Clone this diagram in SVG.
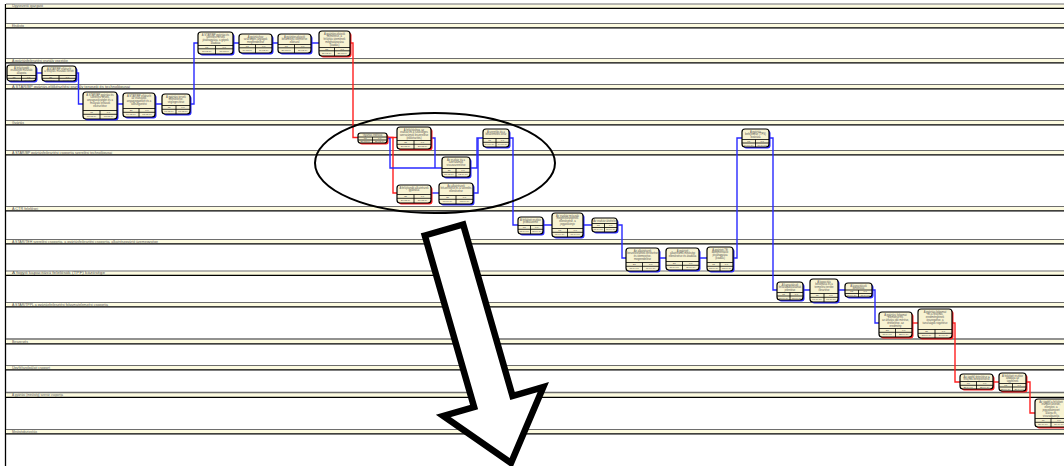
<svg xmlns="http://www.w3.org/2000/svg" width="1064" height="466" viewBox="0 0 1064 466">
  <style>
    .lane-top { stroke: #6e6e6e; stroke-width: 1; }
    .lane-band { fill: #fdfbe0; }
    .lane-bot { stroke: #000; stroke-width: 1.3; }
    .lane-lbl { font-family: "Liberation Sans", Arial, sans-serif; font-size: 3.2px; fill: #555; }
    .box { fill: #f8f3d2; stroke: #000; stroke-width: 1.2; }
    .sh-b { fill: #2a2aff; }
    .sh-r { fill: #ff2020; }
    .grid { stroke: #000; stroke-width: 0.8; fill: none; }
    .t { font-family: "Liberation Sans", Arial, sans-serif; font-size: 2.7px; fill: #555; text-anchor: middle; }
    .c { font-family: "Liberation Sans", Arial, sans-serif; font-size: 2.4px; fill: #444; text-anchor: middle; }
    .wb { fill: none; stroke: #2a2aff; stroke-width: 1.4; }
    .wr { fill: none; stroke: #ff2020; stroke-width: 1.4; }
  </style>

  <rect width="1064" height="466" fill="#fff"/>

  <!-- swimlanes -->
  <g id="lanes">
    <line x1="5.5" y1="4" x2="5.5" y2="466" stroke="#000" stroke-width="1.3"/>
    <g id="lane-1"><rect class="lane-band" x="6" y="4.5" width="1058" height="3.5"/><line class="lane-top" x1="6" y1="4" x2="1064" y2="4"/><line class="lane-bot" x1="6" y1="8.3" x2="1064" y2="8.3"/><text class="lane-lbl" x="12" y="7.2" textLength="31" lengthAdjust="spacingAndGlyphs">Ügyvezető igazgató</text></g>
    <g id="lane-2"><rect class="lane-band" x="6" y="24" width="1058" height="3.5"/><line class="lane-top" x1="6" y1="23.5" x2="1064" y2="23.5"/><line class="lane-bot" x1="6" y1="27.8" x2="1064" y2="27.8"/><text class="lane-lbl" x="12" y="26.7" textLength="12" lengthAdjust="spacingAndGlyphs">Elnökség</text></g>
    <g id="lane-3"><rect class="lane-band" x="6" y="59" width="1058" height="3.5"/><line class="lane-top" x1="6" y1="58.5" x2="1064" y2="58.5"/><line class="lane-bot" x1="6" y1="62.8" x2="1064" y2="62.8"/><text class="lane-lbl" x="12" y="61.7" textLength="56" lengthAdjust="spacingAndGlyphs">A gyártásfejlesztési osztály vezetője</text></g>
    <g id="lane-4"><rect class="lane-band" x="6" y="85" width="1058" height="3.5"/><line class="lane-top" x1="6" y1="84.5" x2="1064" y2="84.5"/><line class="lane-bot" x1="6" y1="88.8" x2="1064" y2="88.8"/><text class="lane-lbl" x="12" y="87.7" textLength="118" lengthAdjust="spacingAndGlyphs">A STAR/BP gyártás-előkészítési osztály tervezői és technológusai</text></g>
    <g id="lane-5"><rect class="lane-band" x="6" y="121" width="1058" height="3.5"/><line class="lane-top" x1="6" y1="120.5" x2="1064" y2="120.5"/><line class="lane-bot" x1="6" y1="124.8" x2="1064" y2="124.8"/><text class="lane-lbl" x="12" y="123.7" textLength="12" lengthAdjust="spacingAndGlyphs">Gyártás</text></g>
    <g id="lane-6"><rect class="lane-band" x="6" y="151" width="1058" height="3.5"/><line class="lane-top" x1="6" y1="150.5" x2="1064" y2="150.5"/><line class="lane-bot" x1="6" y1="154.8" x2="1064" y2="154.8"/><text class="lane-lbl" x="12" y="153.7" textLength="100" lengthAdjust="spacingAndGlyphs">A STAR/BP gyártásfejlesztési csoportja szerelési technológusai</text></g>
    <g id="lane-7"><rect class="lane-band" x="6" y="207" width="1058" height="3.5"/><line class="lane-top" x1="6" y1="206.5" x2="1064" y2="206.5"/><line class="lane-bot" x1="6" y1="210.8" x2="1064" y2="210.8"/><text class="lane-lbl" x="12" y="209.7" textLength="26" lengthAdjust="spacingAndGlyphs">A CTR felelősei</text></g>
    <g id="lane-8"><rect class="lane-band" x="6" y="240" width="1058" height="3.5"/><line class="lane-top" x1="6" y1="239.5" x2="1064" y2="239.5"/><line class="lane-bot" x1="6" y1="243.8" x2="1064" y2="243.8"/><text class="lane-lbl" x="12" y="242.7" textLength="146" lengthAdjust="spacingAndGlyphs">A STAR/TEH szerelési csoportja, a gyártásfejlesztési csoportja, alkatrészgyártó üzemegysége</text></g>
    <g id="lane-9"><rect class="lane-band" x="6" y="271.5" width="1058" height="3.5"/><line class="lane-top" x1="6" y1="271" x2="1064" y2="271"/><line class="lane-bot" x1="6" y1="275.3" x2="1064" y2="275.3"/><text class="lane-lbl" x="12" y="274.2" textLength="93" lengthAdjust="spacingAndGlyphs">A fogyó kapacitású felelősök (TPF) közösége</text></g>
    <g id="lane-10"><rect class="lane-band" x="6" y="303" width="1058" height="3.5"/><line class="lane-top" x1="6" y1="302.5" x2="1064" y2="302.5"/><line class="lane-bot" x1="6" y1="306.8" x2="1064" y2="306.8"/><text class="lane-lbl" x="12" y="305.7" textLength="96" lengthAdjust="spacingAndGlyphs">A STAR/TPPL a gyártásfejlesztési folyamatelemzési csoportja</text></g>
    <g id="lane-11"><rect class="lane-band" x="6" y="339.5" width="1058" height="4"/><line class="lane-top" x1="6" y1="339" x2="1064" y2="339" style="stroke-width:1.4"/><line class="lane-bot" x1="6" y1="343.8" x2="1064" y2="343.8"/><text class="lane-lbl" x="12" y="342.6" textLength="16" lengthAdjust="spacingAndGlyphs">Beszerzés</text></g>
    <g id="lane-12"><rect class="lane-band" x="6" y="366" width="1058" height="3.5"/><line class="lane-top" x1="6" y1="365.5" x2="1064" y2="365.5"/><line class="lane-bot" x1="6" y1="369.8" x2="1064" y2="369.8"/><text class="lane-lbl" x="12" y="368.7" textLength="38" lengthAdjust="spacingAndGlyphs">Ügyfélszolgálati csoport</text></g>
    <g id="lane-13"><rect class="lane-band" x="6" y="393" width="1058" height="4"/><line class="lane-top" x1="6" y1="392.5" x2="1064" y2="392.5" style="stroke-width:1.4"/><line class="lane-bot" x1="6" y1="397.3" x2="1064" y2="397.3"/><text class="lane-lbl" x="12" y="396.1" textLength="51" lengthAdjust="spacingAndGlyphs">A gyártási (minőség) szerviz csoportja</text></g>
    <g id="lane-14"><rect class="lane-band" x="6" y="430" width="1058" height="3.5"/><line class="lane-top" x1="6" y1="429.5" x2="1064" y2="429.5"/><line class="lane-bot" x1="6" y1="433.8" x2="1064" y2="433.8"/><text class="lane-lbl" x="12" y="432.7" textLength="25" lengthAdjust="spacingAndGlyphs">Minőségbiztosítás</text></g>
  </g>

  <!-- connectors -->
  <g id="connectors">
    <path class="wb" d="M36 73 H42"/>
    <path class="wb" d="M76 73 H78.5 V104 H83"/>
    <path class="wb" d="M117 104 H123 M155 104 H162"/>
    <path class="wb" d="M190 104 H194 V43 H198"/>
    <path class="wb" d="M233 43 H239 M272 43 H278 M311 43 H319"/>
    <path class="wr" d="M350 43 H353 V137.5 H358"/>
    <path class="wr" d="M387 137.5 H397"/>
    <path class="wr" d="M387 137.5 H393 V193 H397"/>
    <path class="wb" d="M387 138.5 H390 V168 H442"/>
    <path class="wb" d="M431 138 H435 V168"/>
    <path class="wb" d="M431 193 H439"/>
    <path class="wb" d="M470 168 H477 V138 H483"/>
    <path class="wb" d="M473 193 H478 V138"/>
    <path class="wb" d="M509 138 H513 V225 H518"/>
    <path class="wb" d="M543 225 H552 M583 225 H592"/>
    <path class="wb" d="M617 225 H622 V258 H626"/>
    <path class="wb" d="M659 258 H666 M699 258 H707"/>
    <path class="wb" d="M733 258 H737 V138 H742"/>
    <path class="wb" d="M769 138 H773 V290 H777"/>
    <path class="wb" d="M803 290 H810 M838 290 H845"/>
    <path class="wb" d="M872 290 H875 V323 H879"/>
    <path class="wr" d="M912 323 H918"/>
    <path class="wr" d="M952 323 H955 V382 H960"/>
    <path class="wr" d="M993 382 H999"/>
    <path class="wr" d="M1026 382 H1030 V413 H1035"/>
  </g>

  <!-- activity boxes -->
  <g id="n1"><rect class="sh-b" x="8.5" y="66.5" width="29" height="16" rx="3"/><rect class="box" x="7" y="65" width="29" height="16" rx="3"/><text class="t" x="21.5" y="68.5">A felújítandó</text><text class="t" x="21.5" y="71.3">eszközök műszaki</text><text class="t" x="21.5" y="74">állapota</text><path class="grid" d="M7 75.5 H36 M7 78.3 H36 M21.5 75.5 V81"/><text class="c" x="14" y="77.6">5d</text><text class="c" x="28.7" y="77.6">0,5</text><text class="c" x="14" y="80.5">01.03.14</text><text class="c" x="28.7" y="80.5">05.03.14</text></g>
  <g id="n2"><rect class="sh-b" x="43.5" y="67.5" width="34" height="15" rx="3"/><rect class="box" x="42" y="66" width="34" height="15" rx="3"/><text class="t" x="59" y="69.5">A STAR/BP elkészíti</text><text class="t" x="59" y="72.3">a felújítás műszaki tervét</text><path class="grid" d="M42 75.5 H76 M42 78.3 H76 M59 75.5 V81"/><text class="c" x="50.5" y="77.6">2d</text><text class="c" x="67.5" y="77.6">0,0</text><text class="c" x="50.5" y="80.5">06.03.14</text><text class="c" x="67.5" y="80.5">07.03.14</text></g>
  <g id="n3"><rect class="sh-b" x="199.5" y="33.5" width="35" height="22" rx="3"/><rect class="box" x="198" y="32" width="35" height="22" rx="3"/><text class="t" x="215.5" y="35.5">A STAR/BP gyártási és</text><text class="t" x="215.5" y="38.3">szerelési tervek</text><text class="t" x="215.5" y="41.1">jóváhagyása, a gépek</text><text class="t" x="215.5" y="43.9">átadása</text><path class="grid" d="M198 45.5 H233 M198 48.8 H233 M215.5 45.5 V54"/><text class="c" x="206.7" y="47.8">1d</text><text class="c" x="224.2" y="47.8">0,0</text><text class="c" x="206.7" y="51.7">18.03.14</text><text class="c" x="224.2" y="51.7">18.03.14</text></g>
  <g id="n4"><rect class="sh-b" x="240.5" y="35.5" width="33" height="19" rx="3"/><rect class="box" x="239" y="34" width="33" height="19" rx="3"/><text class="t" x="255.5" y="37.5">A gyártáshoz</text><text class="t" x="255.5" y="40.3">szükséges anyagok</text><text class="t" x="255.5" y="43.1">megrendelése</text><path class="grid" d="M239 44.5 H272 M239 47.8 H272 M255.5 44.5 V53"/><text class="c" x="247.2" y="46.8">1d</text><text class="c" x="263.7" y="46.8">0,0</text><text class="c" x="247.2" y="50.7">19.03.14</text><text class="c" x="263.7" y="50.7">19.03.14</text></g>
  <g id="n5"><rect class="sh-b" x="279.5" y="35.5" width="33" height="19" rx="3"/><rect class="box" x="278" y="34" width="33" height="19" rx="3"/><text class="t" x="294.5" y="37.5">A gyártóeszközök</text><text class="t" x="294.5" y="40.3">beszerzési ütemterve</text><text class="t" x="294.5" y="43.1">elkészül</text><path class="grid" d="M278 44.5 H311 M278 47.8 H311 M294.5 44.5 V53"/><text class="c" x="286.2" y="46.8">1d</text><text class="c" x="302.7" y="46.8">0,0</text><text class="c" x="286.2" y="50.7">20.03.14</text><text class="c" x="302.7" y="50.7">20.03.14</text></g>
  <g id="n6"><rect class="sh-r" x="320.5" y="32.5" width="31" height="25" rx="3"/><rect class="box" x="319" y="31" width="31" height="25" rx="3"/><text class="t" x="334.5" y="34.5">A gyártóeszközök</text><text class="t" x="334.5" y="37.3">felmérése, a</text><text class="t" x="334.5" y="40.1">felújítás ütemének</text><text class="t" x="334.5" y="42.9">meghatározása</text><text class="t" x="334.5" y="45.7">(kiadás)</text><path class="grid" d="M319 47.5 H350 M319 50.8 H350 M334.5 47.5 V56"/><text class="c" x="326.7" y="49.8">3d</text><text class="c" x="342.2" y="49.8">0,0</text><text class="c" x="326.7" y="53.7">21.03.14</text><text class="c" x="342.2" y="53.7">25.03.14</text></g>
  <g id="n7"><rect class="sh-b" x="84.5" y="93.5" width="34" height="27" rx="3"/><rect class="box" x="83" y="92" width="34" height="27" rx="3"/><text class="t" x="100" y="95.5">A STAR/BP gyártási és</text><text class="t" x="100" y="98.3">szerelési tervek,</text><text class="t" x="100" y="101.1">anyagszükséglet és a</text><text class="t" x="100" y="103.9">műszaki leírások</text><text class="t" x="100" y="106.7">elkészítése</text><path class="grid" d="M83 110.5 H117 M83 114.3 H117 M100 110.5 V119"/><text class="c" x="91.5" y="113">8d</text><text class="c" x="108.5" y="113">0,0</text><text class="c" x="91.5" y="117.2">08.03.14</text><text class="c" x="108.5" y="117.2">13.03.14</text></g>
  <g id="n8"><rect class="sh-b" x="124.5" y="94.5" width="32" height="24" rx="3"/><rect class="box" x="123" y="93" width="32" height="24" rx="3"/><text class="t" x="139" y="96.5">A STAR/BP elkészíti</text><text class="t" x="139" y="99.3">az eszközök</text><text class="t" x="139" y="102.1">anyagjegyzékét és a</text><text class="t" x="139" y="104.9">költségvetést</text><path class="grid" d="M123 108.5 H155 M123 112.3 H155 M139 108.5 V117"/><text class="c" x="131" y="111">2d</text><text class="c" x="147" y="111">0,0</text><text class="c" x="131" y="115.2">14.03.14</text><text class="c" x="147" y="115.2">15.03.14</text></g>
  <g id="n9"><rect class="sh-b" x="163.5" y="95.5" width="28" height="20" rx="3"/><rect class="box" x="162" y="94" width="28" height="20" rx="3"/><text class="t" x="176" y="97.5">A gyártási tervek</text><text class="t" x="176" y="100.3">ellenőrzése,</text><text class="t" x="176" y="103.1">véglegesítése</text><path class="grid" d="M162 105.5 H190 M162 109.3 H190 M176 105.5 V114"/><text class="c" x="169" y="108">1d</text><text class="c" x="183" y="108">0,0</text><text class="c" x="169" y="112.2">17.03.14</text><text class="c" x="183" y="112.2">17.03.14</text></g>
  <g id="n10"><rect class="sh-r" x="359.5" y="134.5" width="29" height="10" rx="2.5"/><rect class="box" x="358" y="133" width="29" height="10" rx="2.5"/><text class="t" x="372.5" y="136">Gyártás indítása</text><path class="grid" d="M358 137 H387 M358 140 H387 M372.5 137 V143"/><text class="c" x="365.2" y="139.2">0d</text><text class="c" x="379.7" y="139.2">0,0</text><text class="c" x="365.2" y="142.3">26.03.14</text><text class="c" x="379.7" y="142.3">26.03.14</text></g>
  <g id="n11"><rect class="sh-r" x="398.5" y="128.5" width="34" height="22" rx="3"/><rect class="box" x="397" y="127" width="34" height="22" rx="3"/><text class="t" x="414" y="130.5">A felújításhoz, az</text><text class="t" x="414" y="133.3">eszköz és a szükséges</text><text class="t" x="414" y="136.1">szerszámok leszerelése</text><text class="t" x="414" y="138.9">(előkészítés)</text><path class="grid" d="M397 140.5 H431 M397 144.3 H431 M414 140.5 V149"/><text class="c" x="405.5" y="143">3d</text><text class="c" x="422.5" y="143">0,0</text><text class="c" x="405.5" y="147.2">26.03.14</text><text class="c" x="422.5" y="147.2">28.03.14</text></g>
  <g id="n12"><rect class="sh-b" x="484.5" y="130.5" width="26" height="18" rx="3"/><rect class="box" x="483" y="129" width="26" height="18" rx="3"/><text class="t" x="496" y="132.5">A szerelés és a</text><text class="t" x="496" y="135.3">beüzemelés kész</text><path class="grid" d="M483 138.5 H509 M483 142.3 H509 M496 138.5 V147"/><text class="c" x="489.5" y="141">1d</text><text class="c" x="502.5" y="141">0,0</text><text class="c" x="489.5" y="145.2">04.04.14</text><text class="c" x="502.5" y="145.2">04.04.14</text></g>
  <g id="n13"><rect class="sh-b" x="443.5" y="158.5" width="28" height="20" rx="3"/><rect class="box" x="442" y="157" width="28" height="20" rx="3"/><text class="t" x="456" y="160.5">Az eszköz és a</text><text class="t" x="456" y="163.3">szerszámok</text><text class="t" x="456" y="166.1">visszaszerelése</text><path class="grid" d="M442 168.5 H470 M442 172.3 H470 M456 168.5 V177"/><text class="c" x="449" y="171">3d</text><text class="c" x="463" y="171">1,0</text><text class="c" x="449" y="175.2">31.03.14</text><text class="c" x="463" y="175.2">02.04.14</text></g>
  <g id="n14"><rect class="sh-r" x="398.5" y="186.5" width="34" height="18" rx="3"/><rect class="box" x="397" y="185" width="34" height="18" rx="3"/><text class="t" x="414" y="188.5">A felújítandó alkatrészek</text><text class="t" x="414" y="191.3">gyártása</text><path class="grid" d="M397 194.5 H431 M397 198.3 H431 M414 194.5 V203"/><text class="c" x="405.5" y="197">3d</text><text class="c" x="422.5" y="197">0,0</text><text class="c" x="405.5" y="201.2">27.03.14</text><text class="c" x="422.5" y="201.2">31.03.14</text></g>
  <g id="n15"><rect class="sh-b" x="440.5" y="184.5" width="34" height="21" rx="3"/><rect class="box" x="439" y="183" width="34" height="21" rx="3"/><text class="t" x="456" y="186.5">Az alkatrészek</text><text class="t" x="456" y="189.3">felszerelése és a szerelés</text><text class="t" x="456" y="192.1">ellenőrzése</text><path class="grid" d="M439 195.5 H473 M439 199.3 H473 M456 195.5 V204"/><text class="c" x="447.5" y="198">2d</text><text class="c" x="464.5" y="198">0,0</text><text class="c" x="447.5" y="202.2">01.04.14</text><text class="c" x="464.5" y="202.2">03.04.14</text></g>
  <g id="n16"><rect class="sh-b" x="519.5" y="218.5" width="25" height="17" rx="3"/><rect class="box" x="518" y="217" width="25" height="17" rx="3"/><text class="t" x="530.5" y="220.5">A felújított eszköz</text><text class="t" x="530.5" y="223.3">próbaüzeme</text><path class="grid" d="M518 225.5 H543 M518 229.3 H543 M530.5 225.5 V234"/><text class="c" x="524.2" y="228">1d</text><text class="c" x="536.7" y="228">0,0</text><text class="c" x="524.2" y="232.2">05.04.14</text><text class="c" x="536.7" y="232.2">05.04.14</text></g>
  <g id="n17"><rect class="sh-b" x="553.5" y="214.5" width="31" height="24" rx="3"/><rect class="box" x="552" y="213" width="31" height="24" rx="3"/><text class="t" x="567.5" y="216.5">Az eszköz műszaki</text><text class="t" x="567.5" y="219.3">megfelelőségének</text><text class="t" x="567.5" y="222.1">ellenőrzése, a</text><text class="t" x="567.5" y="224.9">jegyzőkönyv</text><path class="grid" d="M552 228.5 H583 M552 232.3 H583 M567.5 228.5 V237"/><text class="c" x="559.7" y="231">1d</text><text class="c" x="575.2" y="231">0,0</text><text class="c" x="559.7" y="235.2">06.04.14</text><text class="c" x="575.2" y="235.2">06.04.14</text></g>
  <g id="n18"><rect class="sh-b" x="593.5" y="219.5" width="25" height="14" rx="3"/><rect class="box" x="592" y="218" width="25" height="14" rx="3"/><text class="t" x="604.5" y="221.5">Az eszköz átvétele</text><path class="grid" d="M592 223.5 H617 M592 227.5 H617 M604.5 223.5 V232"/><text class="c" x="598.2" y="226">1d</text><text class="c" x="610.7" y="226">0,0</text><text class="c" x="598.2" y="230.3">07.04.14</text><text class="c" x="610.7" y="230.3">07.04.14</text></g>
  <g id="n19"><rect class="sh-b" x="627.5" y="249.5" width="33" height="23" rx="3"/><rect class="box" x="626" y="248" width="33" height="23" rx="3"/><text class="t" x="642.5" y="251.5">Az alkatrészek</text><text class="t" x="642.5" y="254.3">beszerzésének tervezése</text><text class="t" x="642.5" y="257.1">és ütemezése,</text><text class="t" x="642.5" y="259.9">megrendelése</text><path class="grid" d="M626 262.5 H659 M626 266.3 H659 M642.5 262.5 V271"/><text class="c" x="634.2" y="265">2d</text><text class="c" x="650.7" y="265">0,0</text><text class="c" x="634.2" y="269.2">08.04.14</text><text class="c" x="650.7" y="269.2">09.04.14</text></g>
  <g id="n20"><rect class="sh-b" x="667.5" y="249.5" width="33" height="22" rx="3"/><rect class="box" x="666" y="248" width="33" height="22" rx="3"/><text class="t" x="682.5" y="251.5">A gyártott</text><text class="t" x="682.5" y="254.3">alkatrészek minőségi</text><text class="t" x="682.5" y="257.1">ellenőrzése és átadása</text><path class="grid" d="M666 261.5 H699 M666 265.3 H699 M682.5 261.5 V270"/><text class="c" x="674.2" y="264">2d</text><text class="c" x="690.7" y="264">0,0</text><text class="c" x="674.2" y="268.2">10.04.14</text><text class="c" x="690.7" y="268.2">11.04.14</text></g>
  <g id="n21"><rect class="sh-b" x="708.5" y="248.5" width="26" height="24" rx="3"/><rect class="box" x="707" y="247" width="26" height="24" rx="3"/><text class="t" x="720" y="250.5">A gyártott TE</text><text class="t" x="720" y="253.3">dokumentáció</text><text class="t" x="720" y="256.1">jóváhagyása</text><text class="t" x="720" y="258.9">(kiadás)</text><path class="grid" d="M707 262.5 H733 M707 266.3 H733 M720 262.5 V271"/><text class="c" x="713.5" y="265">1d</text><text class="c" x="726.5" y="265">0,0</text><text class="c" x="713.5" y="269.2">12.04.14</text><text class="c" x="726.5" y="269.2">12.04.14</text></g>
  <g id="n22"><rect class="sh-b" x="743.5" y="130.5" width="27" height="18" rx="3"/><rect class="box" x="742" y="129" width="27" height="18" rx="3"/><text class="t" x="755.5" y="132.5">A gyártás</text><text class="t" x="755.5" y="135.3">befejezése (TPS)</text><text class="t" x="755.5" y="138.1">lezárása</text><path class="grid" d="M742 139.5 H769 M742 143 H769 M755.5 139.5 V147"/><text class="c" x="748.7" y="141.9">1d</text><text class="c" x="762.2" y="141.9">0,0</text><text class="c" x="748.7" y="145.6">14.04.14</text><text class="c" x="762.2" y="145.6">14.04.14</text></g>
  <g id="n23"><rect class="sh-b" x="778.5" y="283.5" width="26" height="18" rx="3"/><rect class="box" x="777" y="282" width="26" height="18" rx="3"/><text class="t" x="790" y="285.5">A kapacitások</text><text class="t" x="790" y="288.3">felszabadulásának</text><text class="t" x="790" y="291.1">jelentése</text><path class="grid" d="M777 292.5 H803 M777 296 H803 M790 292.5 V300"/><text class="c" x="783.5" y="294.9">1d</text><text class="c" x="796.5" y="294.9">0,0</text><text class="c" x="783.5" y="298.6">15.04.14</text><text class="c" x="796.5" y="298.6">15.04.14</text></g>
  <g id="n24"><rect class="sh-b" x="811.5" y="280.5" width="28" height="23" rx="3"/><rect class="box" x="810" y="279" width="28" height="23" rx="3"/><text class="t" x="824" y="282.5">A kapacitás</text><text class="t" x="824" y="285.3">bevonása és a</text><text class="t" x="824" y="288.1">termelési tervbe</text><text class="t" x="824" y="290.9">illesztése</text><path class="grid" d="M810 293.5 H838 M810 297.3 H838 M824 293.5 V302"/><text class="c" x="817" y="296">1d</text><text class="c" x="831" y="296">0,0</text><text class="c" x="817" y="300.2">16.04.14</text><text class="c" x="831" y="300.2">16.04.14</text></g>
  <g id="n25"><rect class="sh-b" x="846.5" y="284.5" width="27" height="14" rx="3"/><rect class="box" x="845" y="283" width="27" height="14" rx="3"/><text class="t" x="858.5" y="286.5">A kapacitások</text><text class="t" x="858.5" y="289.3">bevonása</text><path class="grid" d="M845 290 H872 M845 293.5 H872 M858.5 290 V297"/><text class="c" x="851.7" y="292.4">1d</text><text class="c" x="865.2" y="292.4">0,0</text><text class="c" x="851.7" y="296">17.04.14</text><text class="c" x="865.2" y="296">17.04.14</text></g>
  <g id="n26"><rect class="sh-r" x="880.5" y="313.5" width="33" height="25" rx="3"/><rect class="box" x="879" y="312" width="33" height="25" rx="3"/><text class="t" x="895.5" y="315.5">A gyártási folyamat</text><text class="t" x="895.5" y="318.3">elemzése és</text><text class="t" x="895.5" y="321.1">az átfutási idő mérése,</text><text class="t" x="895.5" y="323.9">értékelése, az</text><text class="t" x="895.5" y="326.7">eredmény</text><path class="grid" d="M879 328.5 H912 M879 332.3 H912 M895.5 328.5 V337"/><text class="c" x="887.2" y="331">3d</text><text class="c" x="903.7" y="331">0,0</text><text class="c" x="887.2" y="335.2">18.04.14</text><text class="c" x="903.7" y="335.2">22.04.14</text></g>
  <g id="n27"><rect class="sh-r" x="919.5" y="310.5" width="34" height="29" rx="3"/><rect class="box" x="918" y="309" width="34" height="29" rx="3"/><text class="t" x="935" y="312.5">A gyártási folyamat</text><text class="t" x="935" y="315.3">és a felújítás</text><text class="t" x="935" y="318.1">eredményeinek</text><text class="t" x="935" y="320.9">összegzése, a</text><text class="t" x="935" y="323.7">tanulságok rögzítése</text><path class="grid" d="M918 329.5 H952 M918 333.3 H952 M935 329.5 V338"/><text class="c" x="926.5" y="332">2d</text><text class="c" x="943.5" y="332">0,0</text><text class="c" x="926.5" y="336.2">23.04.14</text><text class="c" x="943.5" y="336.2">24.04.14</text></g>
  <g id="n28"><rect class="sh-r" x="961.5" y="375.5" width="33" height="15" rx="3"/><rect class="box" x="960" y="374" width="33" height="15" rx="3"/><text class="t" x="976.5" y="377.5">Az ügyfél értesítése a</text><text class="t" x="976.5" y="380.3">felújítás befejezéséről</text><path class="grid" d="M960 381.5 H993 M960 385.3 H993 M976.5 381.5 V389"/><text class="c" x="968.2" y="384">1d</text><text class="c" x="984.7" y="384">0,0</text><text class="c" x="968.2" y="388">25.04.14</text><text class="c" x="984.7" y="388">25.04.14</text></g>
  <g id="n29"><rect class="sh-r" x="1000.5" y="374.5" width="27" height="18" rx="3"/><rect class="box" x="999" y="373" width="27" height="18" rx="3"/><text class="t" x="1012.5" y="376.5">A felújított eszköz</text><text class="t" x="1012.5" y="379.3">átadása az</text><text class="t" x="1012.5" y="382.1">ügyfélnek</text><path class="grid" d="M999 383.5 H1026 M999 387 H1026 M1012.5 383.5 V391"/><text class="c" x="1005.7" y="385.9">1d</text><text class="c" x="1019.2" y="385.9">0,0</text><text class="c" x="1005.7" y="389.6">28.04.14</text><text class="c" x="1019.2" y="389.6">28.04.14</text></g>
  <g id="n30"><rect class="sh-r" x="1036.5" y="400.5" width="32" height="28" rx="3"/><rect class="box" x="1035" y="399" width="32" height="28" rx="3"/><text class="t" x="1051" y="402.5">Az ügyfél a felújított</text><text class="t" x="1051" y="405.3">eszközt átveszi,</text><text class="t" x="1051" y="408.1">ellenőrzi, a</text><text class="t" x="1051" y="410.9">jegyzőkönyvet</text><text class="t" x="1051" y="413.7">aláírja és</text><text class="t" x="1051" y="416.5">visszaigazolja</text><path class="grid" d="M1035 418.5 H1067 M1035 422.3 H1067 M1051 418.5 V427"/><text class="c" x="1043" y="421">1d</text><text class="c" x="1059" y="421">0,0</text><text class="c" x="1043" y="425.2">29.04.14</text><text class="c" x="1059" y="425.2">29.04.14</text></g>

  <!-- highlight around the parallel branch -->
  <ellipse cx="435" cy="163" rx="120" ry="50" fill="none" stroke="#000" stroke-width="2"/>

  <!-- large hollow arrow -->
  <polygon points="424.8,235.5 463.2,224.5 512.5,396 543.3,387.1 511,463 443.3,415.9 474.1,407" fill="#fff" stroke="#000" stroke-width="6.5" stroke-linejoin="miter"/>
</svg>
